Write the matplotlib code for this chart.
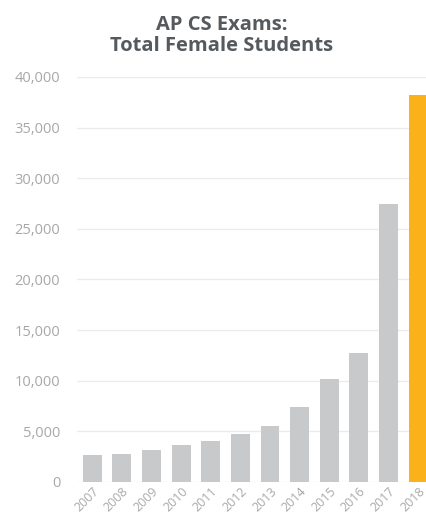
import numpy as np
import matplotlib.pyplot as plt

years = ['2007', '2008', '2009', '2010', '2011', '2012',
         '2013', '2014', '2015', '2016', '2017', '2018']
female_students = [2620, 2770, 3160, 3660, 4050, 4740,
                   5530, 7410, 10180, 12750, 27470, 38240]
colors = ['#c7c9cb'] * 11 + ['#fbb21a']

plt.rcParams['font.family'] = ['Open Sans', 'DejaVu Sans']

fig = plt.figure(figsize=(4.27, 5.27), dpi=100)
ax = fig.add_axes([0.18, 0.0854, 0.82, 0.7685])

x = np.arange(len(years))
ax.bar(x, female_students, width=0.64, color=colors, zorder=2)

ax.set_xlim(-0.52, 11.3)
ax.set_ylim(0, 40000)
ax.set_yticks(range(0, 40001, 5000))
ax.set_yticklabels([f'{v:,}' for v in range(0, 40001, 5000)])
ax.set_xticks(x)
ax.set_xticklabels(years, rotation=45, ha='right', rotation_mode='anchor')

ax.grid(axis='y', color='#ebebeb', linewidth=1, zorder=0)
for s in ax.spines.values():
    s.set_visible(False)
ax.tick_params(length=0, colors='#a8a8a8')
ax.tick_params(axis='y', pad=12, labelsize=10.5)
ax.tick_params(axis='x', pad=2, labelsize=9)

fig.text(0.52, 0.972, 'AP CS Exams:\nTotal Female Students', ha='center', va='top',
         fontsize=14.5, fontweight='bold', color='#555a5e', linespacing=1.05)

fig.savefig('out.png', dpi=100)
